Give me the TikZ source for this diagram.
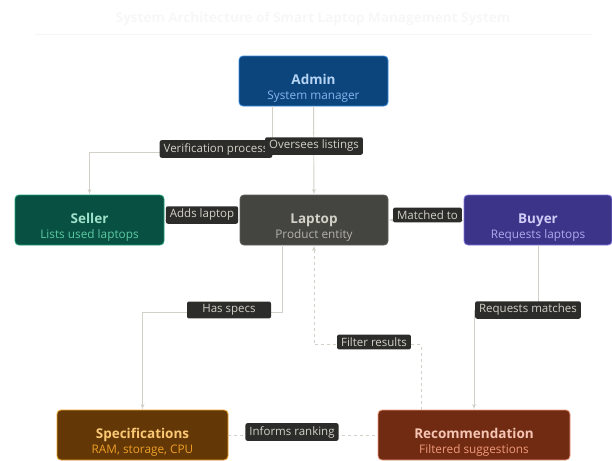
\documentclass[tikz,border=0pt]{standalone}
\usepackage{fontspec}
\setmainfont{Open Sans}
\usepackage{tikz}
\usetikzlibrary{arrows}

\definecolor{edgegray}{HTML}{D3D1C7}
\definecolor{tagfill}{HTML}{2C2C2A}
\definecolor{tagtext}{HTML}{D3D1C7}
\definecolor{adminfill}{HTML}{0C447C}
\definecolor{adminline}{HTML}{378ADD}
\definecolor{admintop}{HTML}{B5D4F4}
\definecolor{adminsub}{HTML}{85B7EB}
\definecolor{sellerfill}{HTML}{085041}
\definecolor{sellerline}{HTML}{1D9E75}
\definecolor{sellertop}{HTML}{9FE1CB}
\definecolor{sellersub}{HTML}{5DCAA5}
\definecolor{laptopfill}{HTML}{444441}
\definecolor{laptopline}{HTML}{5F5E5A}
\definecolor{laptoptop}{HTML}{D3D1C7}
\definecolor{laptopsub}{HTML}{B4B2A9}
\definecolor{buyerfill}{HTML}{3C3489}
\definecolor{buyerline}{HTML}{7F77DD}
\definecolor{buyertop}{HTML}{CECBF6}
\definecolor{buyersub}{HTML}{AFA9EC}
\definecolor{specfill}{HTML}{633806}
\definecolor{specline}{HTML}{EF9F27}
\definecolor{spectop}{HTML}{FAC775}
\definecolor{specsub}{HTML}{EF9F27}
\definecolor{recfill}{HTML}{712B13}
\definecolor{recline}{HTML}{F0997B}
\definecolor{rectop}{HTML}{F5C4B3}
\definecolor{recsub}{HTML}{F0997B}

% box text: title, subtitle, title colour, subtitle colour
\newcommand{\boxtext}[4]{\rule{0pt}{25pt}{\color{#3}\fontsize{13.5}{15}\selectfont\bfseries #1}\\[2.5pt]{\color{#4}\fontsize{11.8}{13}\selectfont #2}}

\begin{document}
\begin{tikzpicture}[x=1pt,y=-1pt]
            \tikzset{vertex/.style = {shape=rectangle,draw,rounded corners=4pt,line width=0.8pt,minimum width=149pt,minimum height=50pt,align=center,inner sep=1pt}}
            \tikzset{tag/.style = {shape=rectangle,fill=tagfill,text=tagtext,rounded corners=2pt,inner xsep=4pt,inner ysep=3pt,font=\fontsize{11.5}{13}\selectfont}}
            \tikzset{edge/.style = {->,> = latex',draw=edgegray,line width=0.9pt}}
            \useasboundingbox (0,0) rectangle (612,460);

            \node[text=black!3,font=\fontsize{13.5}{15}\selectfont\bfseries] (title) at (313,19) {System Architecture of Smart Laptop Management System};
            \draw[black!4,line width=0.6pt] (35,34) -- (592,34);

            \node[vertex,fill=adminfill,draw=adminline] (admin) at (313.5,81) {\boxtext{Admin}{System manager}{admintop}{adminsub}};
            \node[vertex,fill=sellerfill,draw=sellerline] (seller) at (89.5,220) {\boxtext{Seller}{Lists used laptops}{sellertop}{sellersub}};
            \node[vertex,fill=laptopfill,draw=laptopline,minimum width=148pt] (laptop) at (314,220) {\boxtext{Laptop}{Product entity}{laptoptop}{laptopsub}};
            \node[vertex,fill=buyerfill,draw=buyerline,minimum width=148pt] (buyer) at (538,220) {\boxtext{Buyer}{Requests laptops}{buyertop}{buyersub}};
            \node[vertex,fill=specfill,draw=specline,minimum width=171pt] (specs) at (142.5,435) {\boxtext{Specifications}{RAM, storage, CPU}{spectop}{specsub}};
            \node[vertex,fill=recfill,draw=recline,minimum width=192pt] (rec) at (474,435) {\boxtext{Recommendation}{Filtered suggestions}{rectop}{recsub}};

            \draw[edge] ([xshift=-41.5pt]admin.south) -- ++(0,46) -| (seller.north);
            \draw[edge] (admin) to (laptop);
            \draw[edge] (seller) to (laptop);
            \draw[edge] (buyer) to (laptop);
            \draw[edge] ([xshift=-32pt]laptop.south) -- ++(0,67) -| (specs.north);
            \draw[edge] (buyer.south) -- ++(0,65) -| (rec.north);
            \draw[edge, dashed] ([xshift=-53pt]rec.north) -- ++(0,-65) -| (laptop.south);
            \draw[edge, dashed, -] (specs) to (rec);

            \node[tag] (verify) at (216,149) {Verification process};
            \node[tag] (oversee) at (314,146) {Oversees listings};
            \node[tag] (adds) at (202,215) {Adds laptop};
            \node[tag] (matched) at (427.5,215) {Matched to};
            \node[tag,minimum width=84pt] (specslab) at (229,310) {Has specs};
            \node[tag] (reqlab) at (528,310) {Requests matches};
            \node[tag] (filter) at (374,342) {Filter results};
            \node[tag] (informs) at (292,432) {Informs ranking};
        \end{tikzpicture}
\end{document}
